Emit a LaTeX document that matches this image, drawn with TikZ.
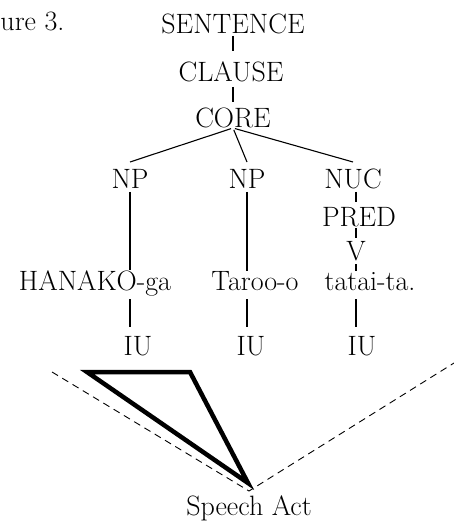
\documentclass[tikz,border=0pt]{standalone}
\usepackage{fontspec}
\usetikzlibrary{positioning}

\begin{document}
\begin{tikzpicture}[
        x=1pt, y=-1pt,
        font=\fontsize{28}{34}\selectfont,
        rotulo/.style={inner sep=0pt, outer sep=0pt, text height=19pt, text depth=0pt, anchor=base},
        ramo/.style={line width=1.1pt},
        visao/.style={line width=0.9pt, dash pattern=on 7pt off 5pt},
        triangulo/.style={line width=4.5pt, line join=miter}
    ]
    \useasboundingbox (0,0) rectangle (454,521);

    % TITULO
    \node[rotulo, anchor=base west] (titulo) at (0.5,31) {ure 3.};

    % --- ESPINHA ---
    \node[rotulo] (sentence) at (233,34) {SENTENCE};
    \node[rotulo] (clause) at (231,82) {CLAUSE};
    \node[rotulo] (core) at (233,128) {CORE};

    % --- CONSTITUINTES ---
    \node[rotulo] (np1) at (130,189) {NP};
    \node[rotulo] (np2) at (247,189) {NP};
    \node[rotulo] (nuc) at (353,189) {NUC};
    \node[rotulo] (pred) at (359,226) {PRED};
    \node[rotulo] (v) at (356,260) {V};

    % --- PALAVRAS ---
    \node[rotulo] (hanako) at (95,290) {HANAKO-ga};
    \node[rotulo] (taroo) at (255,290) {Taroo-o};
    \node[rotulo] (tatai) at (370,290) {tatai-ta.};

    % --- UNIDADES ---
    \node[rotulo] (iu1) at (138,355) {IU};
    \node[rotulo] (iu2) at (251,355) {IU};
    \node[rotulo] (iu3) at (362,355) {IU};

    \node[rotulo] (speech) at (249,515) {Speech Act};
    \coordinate (apice) at ([yshift=5pt]speech.north);
    \coordinate (esq) at (52,372);
    \coordinate (dir) at (454,363);

    % --- RAMOS ---
    \draw[ramo, shorten <=2pt, shorten >=12pt] (sentence.south) -- (sentence.south |- clause.north);
    \draw[ramo, shorten <=5pt, shorten >=7pt] (sentence.south |- clause.south) -- (sentence.south |- core.north);
    \draw[ramo, shorten <=2pt] (core.south) -- ([yshift=8pt]np1.north);
    \draw[ramo, shorten <=2pt] (core.south) -- ([yshift=8pt]np2.north);
    \draw[ramo, shorten <=2pt] (core.south) -- ([yshift=8pt]nuc.north);
    \draw[ramo, shorten <=3pt, shorten >=1pt] (np1.south) -- (np1.south |- hanako.north);
    \draw[ramo, shorten <=3pt, shorten >=0pt] (np2.south) -- (np2.south |- taroo.north);
    \draw[ramo, shorten <=3pt, shorten >=5pt] (v |- nuc.south) -- (v |- pred.north);
    \draw[ramo, shorten <=2pt, shorten >=3pt] (v |- pred.south) -- (v.north);
    \draw[ramo, shorten <=4pt] (v.south) -- (v.south |- tatai.north);
    \draw[ramo, shorten <=9pt, shorten >=9pt] (np1 |- hanako.south) -- (np1 |- iu1.north);
    \draw[ramo, shorten <=9pt, shorten >=9pt] (np2 |- taroo.south) -- (np2 |- iu2.north);
    \draw[ramo, shorten <=9pt, shorten >=9pt] (v |- tatai.south) -- (v |- iu3.north);

    % --- ATO DE FALA ---
    \draw[visao] (esq) -- (apice) -- (dir);
    \draw[triangulo] (87,372) -- (190,372) -- (248,483) -- cycle;

\end{tikzpicture}
\end{document}
